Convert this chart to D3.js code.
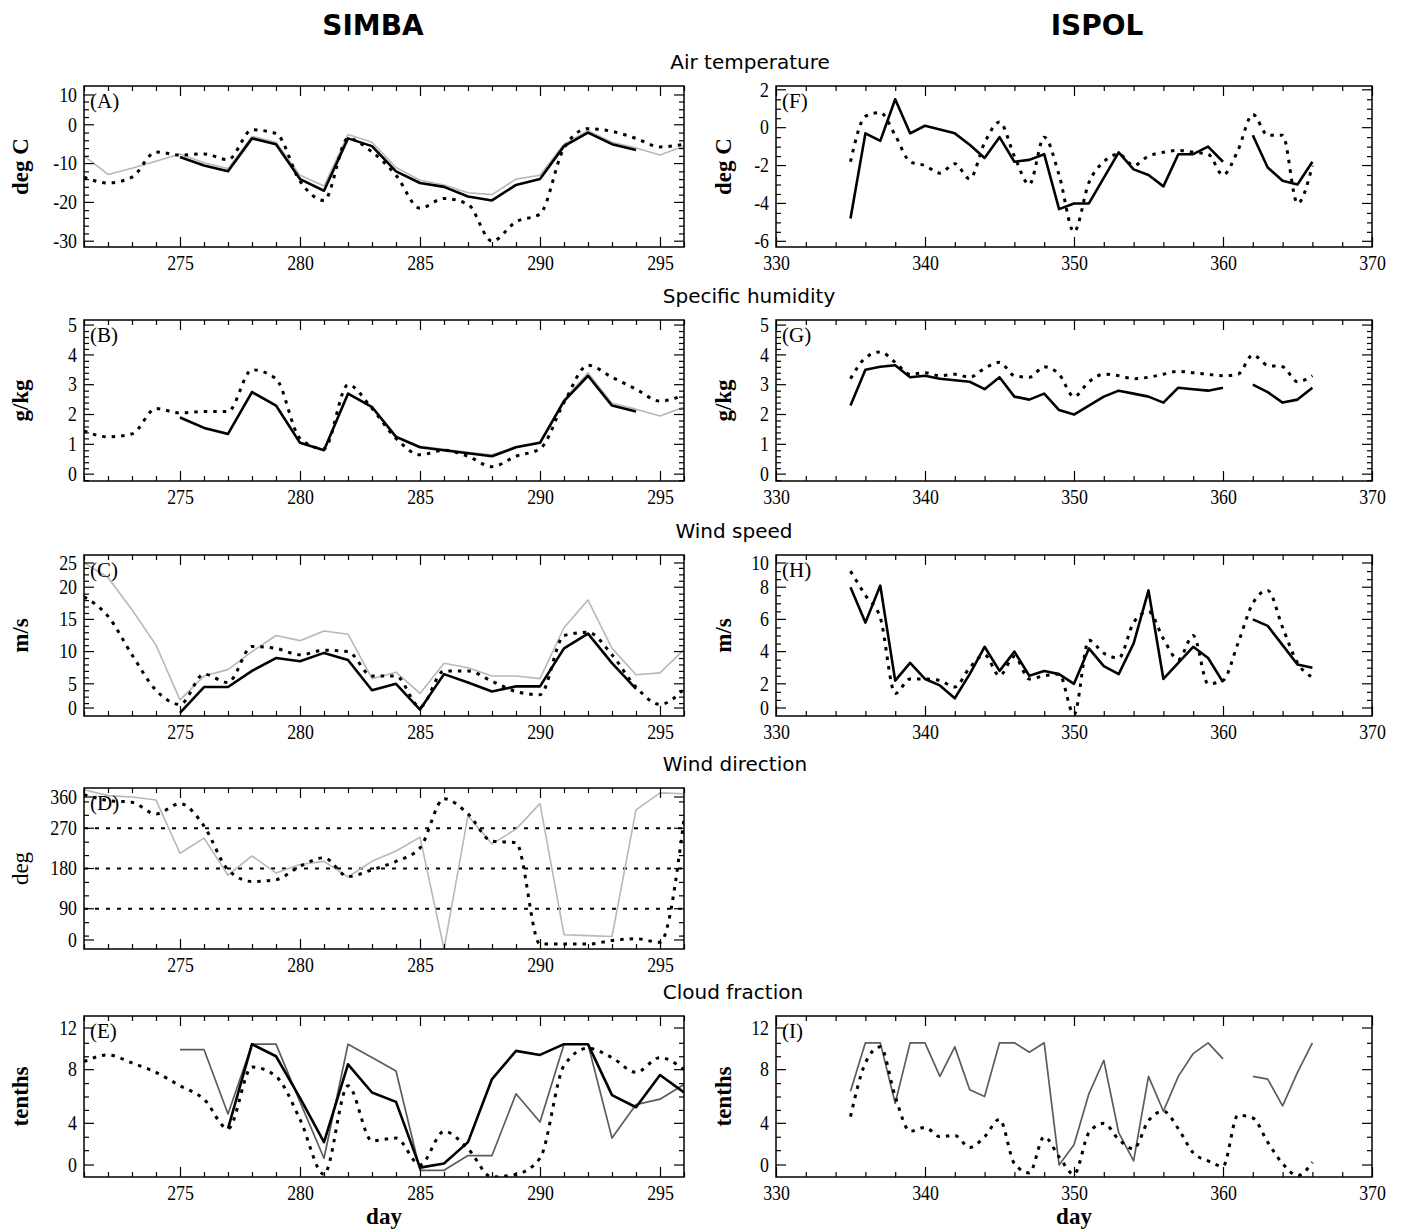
<!DOCTYPE html>
<html>
<head>
<meta charset="utf-8">
<title>SIMBA / ISPOL</title>
<script src="https://d3js.org/d3.v7.min.js"></script>
<style>
  body { margin:0; background:#fff; }
  svg { display:block; font-family:"Liberation Serif", serif; }
  .frame { fill:none; stroke:#000; stroke-width:1.5; }
  .tick line { stroke:#000; stroke-width:1.2; }
  .domain { display:none; }
  .tick text { font-family:"Liberation Serif", serif; font-size:21px; fill:#000; }
  .col-title { font-family:"DejaVu Sans", sans-serif; font-weight:bold; font-size:28px; }
  .row-title { font-family:"DejaVu Sans", sans-serif; font-size:20px; }
  .ylab { font-family:"Liberation Serif", serif; font-weight:bold; font-size:23px; }
  .letter { font-family:"Liberation Serif", serif; font-size:21px; }
</style>
</head>
<body>
<script>
// ---- data ----
const simbaDays = [271,272,273,274,275,276,277,278,279,280,281,282,283,284,285,286,287,288,289,290,291,292,293,294,295,296]
const ispolDays = [335,336,337,338,339,340,341,342,343,344,345,346,347,348,349,350,351,352,353,354,355,356,357,358,359,360,361,362,363,364,365,366]

// (A) air temperature, SIMBA
const airSimbaObs  = [null,null,null,null,-8.3,-10.5,-12,-3.5,-5,-14,-17,-3.5,-5.5,-12,-15,-16,-18.5,-19.5,-15.5,-14,-5.5,-2,-5,-6.5,null,null]
const airSimbaGray = [-8,-12.8,-11.2,-9.4,-7.5,-9.8,-11.3,-3,-4.5,-13,-15.8,-2.5,-4.5,-11,-14.3,-15.5,-17.5,-18,-14,-13,-5,-1.5,-4.5,-6,-7.8,-5.5]
const airSimbaDot  = [-13.5,-15,-13.5,-7,-7.8,-7.5,-9,-1.3,-2.2,-14.5,-19.5,-3.5,-7,-13,-21.5,-19,-20.5,-30,-25,-23,-6,-1,-1.7,-3.5,-5.7,-5]
// (B) specific humidity, SIMBA
const humSimbaObs  = [null,null,null,null,1.9,1.55,1.35,2.75,2.3,1.05,0.8,2.7,2.25,1.25,0.9,0.8,0.7,0.6,0.9,1.05,2.45,3.3,2.3,2.1,null,null]
const humSimbaGray = [null,null,null,null,1.92,1.57,1.37,2.78,2.32,1.07,0.82,2.72,2.28,1.28,0.93,0.83,0.73,0.65,0.93,1.08,2.5,3.4,2.38,2.18,1.95,2.25]
const humSimbaDot  = [1.45,1.25,1.35,2.2,2.05,2.1,2.1,3.5,3.2,1.2,0.85,3.0,2.2,1.2,0.65,0.8,0.6,0.25,0.6,0.85,2.4,3.65,3.25,2.85,2.45,2.65]
// (C) wind speed, SIMBA
const windSimbaObs  = [null,null,null,null,0.5,4.5,4.5,7,9,8.5,9.8,8.7,4,5,1,6.5,5.2,3.8,4.6,4.6,10.5,12.8,8.2,4.2,null,null]
const windSimbaGray = [23.8,21.5,16.5,11,2.5,6.2,7.2,10,12.5,11.7,13.2,12.7,5.8,6.8,3.5,8.2,7.5,6.2,6.2,5.8,13.7,18,10.5,6.4,6.7,10.3]
const windSimbaDot  = [18.5,15.5,9.5,4,1.8,6.5,5.2,10.8,10.5,9.5,10.2,10,6.2,6.2,1.4,7,7,5.4,3.8,3.3,12.5,13,9.5,4.5,1.8,4.2]
// (D) wind direction, SIMBA
const dirSimbaGray = [356,343,340,333,214,248,165,208,170,189,196,161,196,219,250,0,298,235,268,325,32,30,28,311,349,347]
const dirSimbaDot  = [345,332,328,302,325,275,177,151,155,185,204,162,177,196,226,336,302,241,238,11,11,11,19,23,15,290]
const dirRefLines  = [90,180,270]
const dirTickLabels = [0,90,180,270,360]
// (E) cloud fraction, SIMBA
const cloudSimbaObs  = [null,null,null,null,null,null,3.6,9.9,9.0,5.9,2.6,8.4,6.3,5.6,0.7,1.0,2.6,7.3,9.4,9.1,9.9,9.9,6.1,5.2,7.6,6.3]
const cloudSimbaGray = [null,null,null,null,9.5,9.5,4.7,9.9,9.9,5.6,1.4,9.9,8.9,7.9,0.5,0.5,1.6,1.6,6.2,4.1,9.9,9.9,2.9,5.4,5.8,6.9]
const cloudSimbaDot  = [8.6,9.1,8.5,7.8,6.8,5.8,3.6,8.2,7.5,4.3,0.2,6.8,2.7,2.9,0.9,3.4,2.1,0,0.2,1.4,8.3,9.6,8.9,7.8,8.9,8.0]

// (F) air temperature, ISPOL
const airIspolObs = [-4.8,-0.3,-0.7,1.5,-0.3,0.1,-0.1,-0.3,-0.9,-1.6,-0.5,-1.8,-1.7,-1.4,-4.3,-4.0,-4.0,-2.65,-1.3,-2.2,-2.5,-3.1,-1.4,-1.4,-1.0,-1.8,null,-0.4,-2.1,-2.8,-3.0,-1.8]
const airIspolDot = [-1.8,0.6,0.8,-0.4,-1.8,-2.0,-2.4,-1.9,-2.7,-0.8,0.3,-1.5,-3.0,-0.5,-2.5,-5.5,-2.9,-1.8,-1.4,-2.0,-1.5,-1.3,-1.2,-1.3,-1.4,-2.5,-1.2,0.7,-0.4,-0.4,-4.0,-2.0]
// (G) specific humidity, ISPOL
const humIspolObs = [2.3,3.5,3.6,3.65,3.25,3.3,3.2,3.15,3.1,2.85,3.25,2.6,2.5,2.7,2.15,2.0,2.3,2.6,2.8,2.7,2.6,2.4,2.9,2.85,2.8,2.9,null,3.0,2.75,2.4,2.5,2.9]
const humIspolDot = [3.2,3.9,4.1,3.75,3.35,3.4,3.3,3.35,3.25,3.55,3.75,3.3,3.25,3.6,3.35,2.6,3.1,3.35,3.3,3.2,3.25,3.35,3.45,3.4,3.35,3.3,3.35,4.0,3.65,3.6,3.1,3.3]
// (H) wind speed, ISPOL
const windIspolObs = [8.0,5.8,8.1,2.2,3.3,2.3,1.9,1.1,2.6,4.3,2.8,4.0,2.5,2.8,2.6,2.0,4.2,3.1,2.6,4.5,7.8,2.3,3.3,4.3,3.6,2.1,null,6.0,5.6,4.4,3.2,3.0]
const windIspolDot = [9.0,7.5,6.1,1.4,2.3,2.3,2.2,1.8,3.0,3.8,2.5,3.7,2.3,2.5,2.6,0.1,4.7,3.9,3.6,5.8,6.5,4.8,3.5,5.0,2.0,2.2,4.5,7.0,7.8,5.5,3.3,2.4]
// (I) cloud fraction, ISPOL
const cloudIspolGray = [6.4,10,10,5.5,10,10,7.5,9.7,6.5,6.0,10,10,9.3,10,0.9,2.4,6.2,8.7,3.3,1.2,7.5,4.9,7.5,9.2,10,8.8,null,7.5,7.3,5.3,7.8,10]
const cloudIspolDot  = [4.5,8.5,9.7,6.0,3.4,3.7,3.0,3.1,2.2,3.0,4.3,1.0,0.3,3.0,1.5,0.2,3.3,4.0,2.8,2.1,4.2,4.9,3.6,1.8,1.2,0.8,4.6,4.4,2.6,1.0,0.1,1.1]

const rowTitles = ["Air temperature", "Specific humidity", "Wind speed", "Wind direction", "Cloud fraction"]

// ---- layout ----
const W = 1401, H = 1231
const cols = [{x0:84, x1:684}, {x0:776, x1:1372}]
const rowTop = [86, 320, 555, 788, 1016]
const panelH = 161
const squeeze = 0.85   // tick digits are tall and narrow in the original

const svg = d3.select("body").append("svg").attr("width", W).attr("height", H)

const xSimba = d3.scaleLinear().domain([271, 296]).range([cols[0].x0, cols[0].x1])
const xIspol = d3.scaleLinear().domain([330, 370]).range([cols[1].x0, cols[1].x1])

const styles = {
  black: {stroke:"#000", width:2.6, dash:null, curve:d3.curveLinear},
  gray:  {stroke:"#b8b8b8", width:1.6, dash:null, curve:d3.curveLinear},
  dark:  {stroke:"#5c5c5c", width:1.7, dash:null, curve:d3.curveLinear},
  dot:   {stroke:"#000", width:3, dash:"3.5,6", curve:d3.curveMonotoneX}
}

// nudge: end labels sit a little inside the frame in the original
const panels = [
  {id:"A", col:0, row:0, dom:[-31.5,10], major:10, minor:2, ylab:"deg C", nudge:9,
   series:[["gray",airSimbaGray],["black",airSimbaObs],["dot",airSimbaDot]]},
  {id:"B", col:0, row:1, dom:[-0.23,5.17], major:1, minor:0.2, ylab:"g/kg", nudge:0,
   series:[["gray",humSimbaGray],["black",humSimbaObs],["dot",humSimbaDot]]},
  {id:"C", col:0, row:2, dom:[0,25], major:5, minor:1, ylab:"m/s", nudge:8,
   series:[["gray",windSimbaGray],["black",windSimbaObs],["dot",windSimbaDot]]},
  {id:"D", col:0, row:3, dom:[0,360], major:90, minor:30, ylab:"deg", ylabNormal:true, nudge:9,
   ticks:dirTickLabels, refs:dirRefLines,
   series:[["gray",dirSimbaGray],["dot",dirSimbaDot]]},
  {id:"E", col:0, row:4, dom:[0,12], major:4, minor:1, ylab:"tenths", xlab:"day", nudge:12,
   series:[["dark",cloudSimbaGray],["black",cloudSimbaObs],["dot",cloudSimbaDot]]},
  {id:"F", col:1, row:0, dom:[-6.3,2.2], major:2, minor:0.5, ylab:"deg C", nudge:0,
   series:[["black",airIspolObs],["dot",airIspolDot]]},
  {id:"G", col:1, row:1, dom:[-0.23,5.17], major:1, minor:0.2, ylab:"g/kg", nudge:0,
   series:[["black",humIspolObs],["dot",humIspolDot]]},
  {id:"H", col:1, row:2, dom:[0,10], major:2, minor:0.5, ylab:"m/s", nudge:8,
   series:[["black",windIspolObs],["dot",windIspolDot]]},
  {id:"I", col:1, row:4, dom:[0,12], major:4, minor:1, ylab:"tenths", xlab:"day", nudge:12,
   series:[["dark",cloudIspolGray],["dot",cloudIspolDot]]}
]

// column and row titles
svg.append("text").attr("class","col-title").attr("x",373).attr("y",35).attr("text-anchor","middle").text("SIMBA")
svg.append("text").attr("class","col-title").attr("x",1097).attr("y",35).attr("text-anchor","middle").text("ISPOL")
const rowTitleX = [750, 749, 734, 735, 733]
rowTitles.forEach(function(t, i){
  svg.append("text").attr("class","row-title")
     .attr("x", rowTitleX[i]).attr("y", rowTop[i] - 17)
     .attr("text-anchor","middle").text(t)
})

function ticksFor(dom, step){
  const out = []
  const start = Math.ceil(dom[0]/step - 1e-9)
  const end = Math.floor(dom[1]/step + 1e-9)
  for (let k = start; k <= end; k++) out.push(+(k*step).toFixed(6))
  return out
}
const plain = d => String(d)   // hyphen minus, as in the original

panels.forEach(function(p){
  const c = cols[p.col]
  const top = rowTop[p.row], bottom = top + panelH
  const x = p.col === 0 ? xSimba : xIspol
  const days = p.col === 0 ? simbaDays : ispolDays
  const y = d3.scaleLinear().domain(p.dom).range([bottom, top])
  const g = svg.append("g").attr("class","panel-" + p.id)

  const majors = p.ticks || ticksFor(p.dom, p.major)
  const onEdge = v => Math.abs(y(v) - bottom) < 1 || Math.abs(y(v) - top) < 1
  const gap = p.nudge + 4
  const minors = ticksFor(p.dom, p.minor)
    .filter(v => !majors.some(m => Math.abs(m - v) < 1e-6))
    .filter(v => !(p.nudge && majors.some(onEdge) && (y(v) > bottom - gap || y(v) < top + gap)))

  const xMajor = p.col === 0 ? ticksFor(x.domain(), 5) : ticksFor(x.domain(), 10)
  const xMinor = (p.col === 0 ? ticksFor(x.domain(), 1) : ticksFor(x.domain(), 2))
    .filter(v => xMajor.indexOf(v) < 0)

  // clip
  g.append("clipPath").attr("id","clip-" + p.id)
    .append("rect").attr("x", c.x0).attr("y", top).attr("width", c.x1 - c.x0).attr("height", panelH)

  // reference lines
  if (p.refs){
    g.selectAll(".ref").data(p.refs).enter().append("line")
      .attr("x1", c.x0).attr("x2", c.x1)
      .attr("y1", d => y(d)).attr("y2", d => y(d))
      .attr("stroke","#000").attr("stroke-width",2).attr("stroke-dasharray","4,7")
  }

  // series
  const lines = g.append("g").attr("clip-path","url(#clip-" + p.id + ")")
  p.series.forEach(function(s){
    const st = styles[s[0]]
    const pts = days.map((d, i) => ({d:d, v:s[1][i]}))
    const line = d3.line()
      .defined(e => e.v !== null)
      .x(e => x(e.d)).y(e => y(e.v))
      .curve(st.curve)
    lines.append("path").datum(pts)
      .attr("d", line)
      .attr("fill","none")
      .attr("stroke", st.stroke)
      .attr("stroke-width", st.width)
      .attr("stroke-dasharray", st.dash)
      .attr("stroke-linejoin","round")
  })

  // axes: ticks point inward on all four sides
  const bottomAx = g.append("g").attr("transform","translate(0," + bottom + ")")
    .call(d3.axisBottom(x).tickValues(xMajor).tickSize(-10).tickPadding(8).tickFormat(plain))
  g.append("g").attr("transform","translate(0," + bottom + ")")
    .call(d3.axisBottom(x).tickValues(xMinor).tickSize(-5).tickFormat(""))
  g.append("g").attr("transform","translate(0," + top + ")")
    .call(d3.axisTop(x).tickValues(xMajor).tickSize(-10).tickFormat(""))
  g.append("g").attr("transform","translate(0," + top + ")")
    .call(d3.axisTop(x).tickValues(xMinor).tickSize(-5).tickFormat(""))

  const leftAx = g.append("g").attr("transform","translate(" + c.x0 + ",0)")
    .call(d3.axisLeft(y).tickValues(majors).tickSize(-10).tickPadding(7).tickFormat(plain))
  g.append("g").attr("transform","translate(" + c.x0 + ",0)")
    .call(d3.axisLeft(y).tickValues(minors).tickSize(-5).tickFormat(""))
  const rightAx = g.append("g").attr("transform","translate(" + c.x1 + ",0)")
    .call(d3.axisRight(y).tickValues(majors).tickSize(-10).tickFormat(""))
  g.append("g").attr("transform","translate(" + c.x1 + ",0)")
    .call(d3.axisRight(y).tickValues(minors).tickSize(-5).tickFormat(""))

  ;[leftAx, rightAx].forEach(function(ax){
    ax.selectAll(".tick").attr("transform", function(d){
      let py = y(d)
      if (Math.abs(py - bottom) < 1) py -= p.nudge
      else if (Math.abs(py - top) < 1) py += p.nudge
      return "translate(0," + py + ")"
    })
  })
  bottomAx.selectAll("text").attr("dy","0.71em").attr("transform","scale(" + squeeze + ",1)")
  leftAx.selectAll("text").attr("x", -7 / squeeze).attr("transform","scale(" + squeeze + ",1)")

  // frame
  g.append("rect").attr("class","frame")
    .attr("x", c.x0).attr("y", top).attr("width", c.x1 - c.x0).attr("height", panelH)

  // panel letter
  g.append("text").attr("class","letter")
    .attr("x", c.x0 + 6).attr("y", top + 22).text("(" + p.id + ")")

  // y label
  const lx = p.col === 0 ? 28 : 731
  g.append("text").attr("class","ylab")
    .attr("transform","translate(" + lx + "," + (top + panelH/2) + ") rotate(-90)")
    .attr("text-anchor","middle")
    .style("font-weight", p.ylabNormal ? "normal" : "bold")
    .text(p.ylab)

  if (p.xlab){
    g.append("text").attr("class","ylab")
      .attr("x", (c.x0 + c.x1)/2).attr("y", bottom + 47)
      .attr("text-anchor","middle").text(p.xlab)
  }
})
</script>
</body>
</html>
